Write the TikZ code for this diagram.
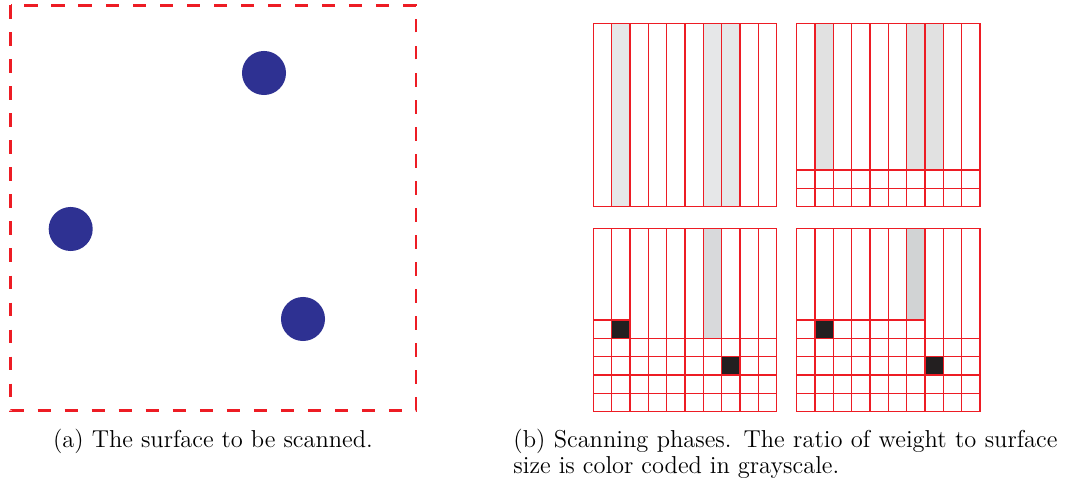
\documentclass[tikz,border=0pt]{standalone}
\usepackage{xcolor}
\definecolor{scanred}{HTML}{ED1C24}
\definecolor{dotblue}{HTML}{2E3192}
\definecolor{phaseA}{HTML}{E6E7E8}
\definecolor{phaseB}{HTML}{E1E1E1}
\definecolor{phaseC}{HTML}{D8D9DB}
\definecolor{phaseD}{HTML}{D1D3D4}
\definecolor{hitcell}{HTML}{231F20}
\tikzset{
  gridline/.style={draw=scanred, line width=0.6pt},
  target/.style={circle, fill=dotblue, inner sep=0pt, minimum size=20.7pt},
  surface/.style={draw=scanred, line width=1.2pt, dash pattern=on 6.3pt off 6.4pt},
  caption/.style={inner sep=0pt, font=\fontsize{11.5}{13.8}\selectfont},
}
\begin{document}
\begin{tikzpicture}[x=0.47pt,y=-0.47pt]
\useasboundingbox (0,0) rectangle (1065,488);

% (a) surface with three targets
\draw[surface] (10.7,5.3) rectangle (416,410.7);
\node[target] (t1) at (264,73) {};
\node[target] (t2) at (70.7,229) {};
\node[target] (t3) at (303,319) {};
\node[caption, anchor=base] (capa) at (213,448) {(a) The surface to be scanned.};

% (b) phase 1
\begin{scope}[shift={(593.3,23.3)}, scale=18.333]
\fill[phaseA] (1,0) rectangle (2,10) (6,0) rectangle (8,10);
\foreach \i in {0,...,10} \draw[gridline] (\i,0) -- (\i,10);
\foreach \j in {0,10} \draw[gridline] (0,\j) -- (10,\j);
\end{scope}

% phase 2
\begin{scope}[shift={(796.7,23.3)}, scale=18.333]
\fill[phaseB] (1,0) rectangle (2,8) (6,0) rectangle (8,8);
\foreach \i in {0,...,10} \draw[gridline] (\i,0) -- (\i,10);
\foreach \j in {0,8,9,10} \draw[gridline] (0,\j) -- (10,\j);
\end{scope}

% phase 3
\begin{scope}[shift={(593.3,228.3)}, scale=18.333]
\fill[phaseC] (6,0) rectangle (7,6);
\fill[hitcell] (1,5) rectangle (2,6) (7,7) rectangle (8,8);
\foreach \i in {0,...,10} \draw[gridline] (\i,0) -- (\i,10);
\foreach \j in {0,6,7,8,9,10} \draw[gridline] (0,\j) -- (10,\j);
\draw[gridline] (0,5) -- (2,5);
\end{scope}

% phase 4
\begin{scope}[shift={(796.7,228.3)}, scale=18.333]
\fill[phaseD] (6,0) rectangle (7,5);
\fill[hitcell] (1,5) rectangle (2,6) (7,7) rectangle (8,8);
\foreach \i in {0,...,10} \draw[gridline] (\i,0) -- (\i,10);
\foreach \j in {0,6,7,8,9,10} \draw[gridline] (0,\j) -- (10,\j);
\draw[gridline] (0,5) -- (7,5);
\end{scope}

\node[caption, anchor=base west] (capb) at (513,448)
  {\makebox[255.7pt][s]{(b) Scanning phases. The ratio of weight to surface}};
\node[caption, anchor=base west] (capb2) at (513,474) {size is color coded in grayscale.};
\end{tikzpicture}
\end{document}
